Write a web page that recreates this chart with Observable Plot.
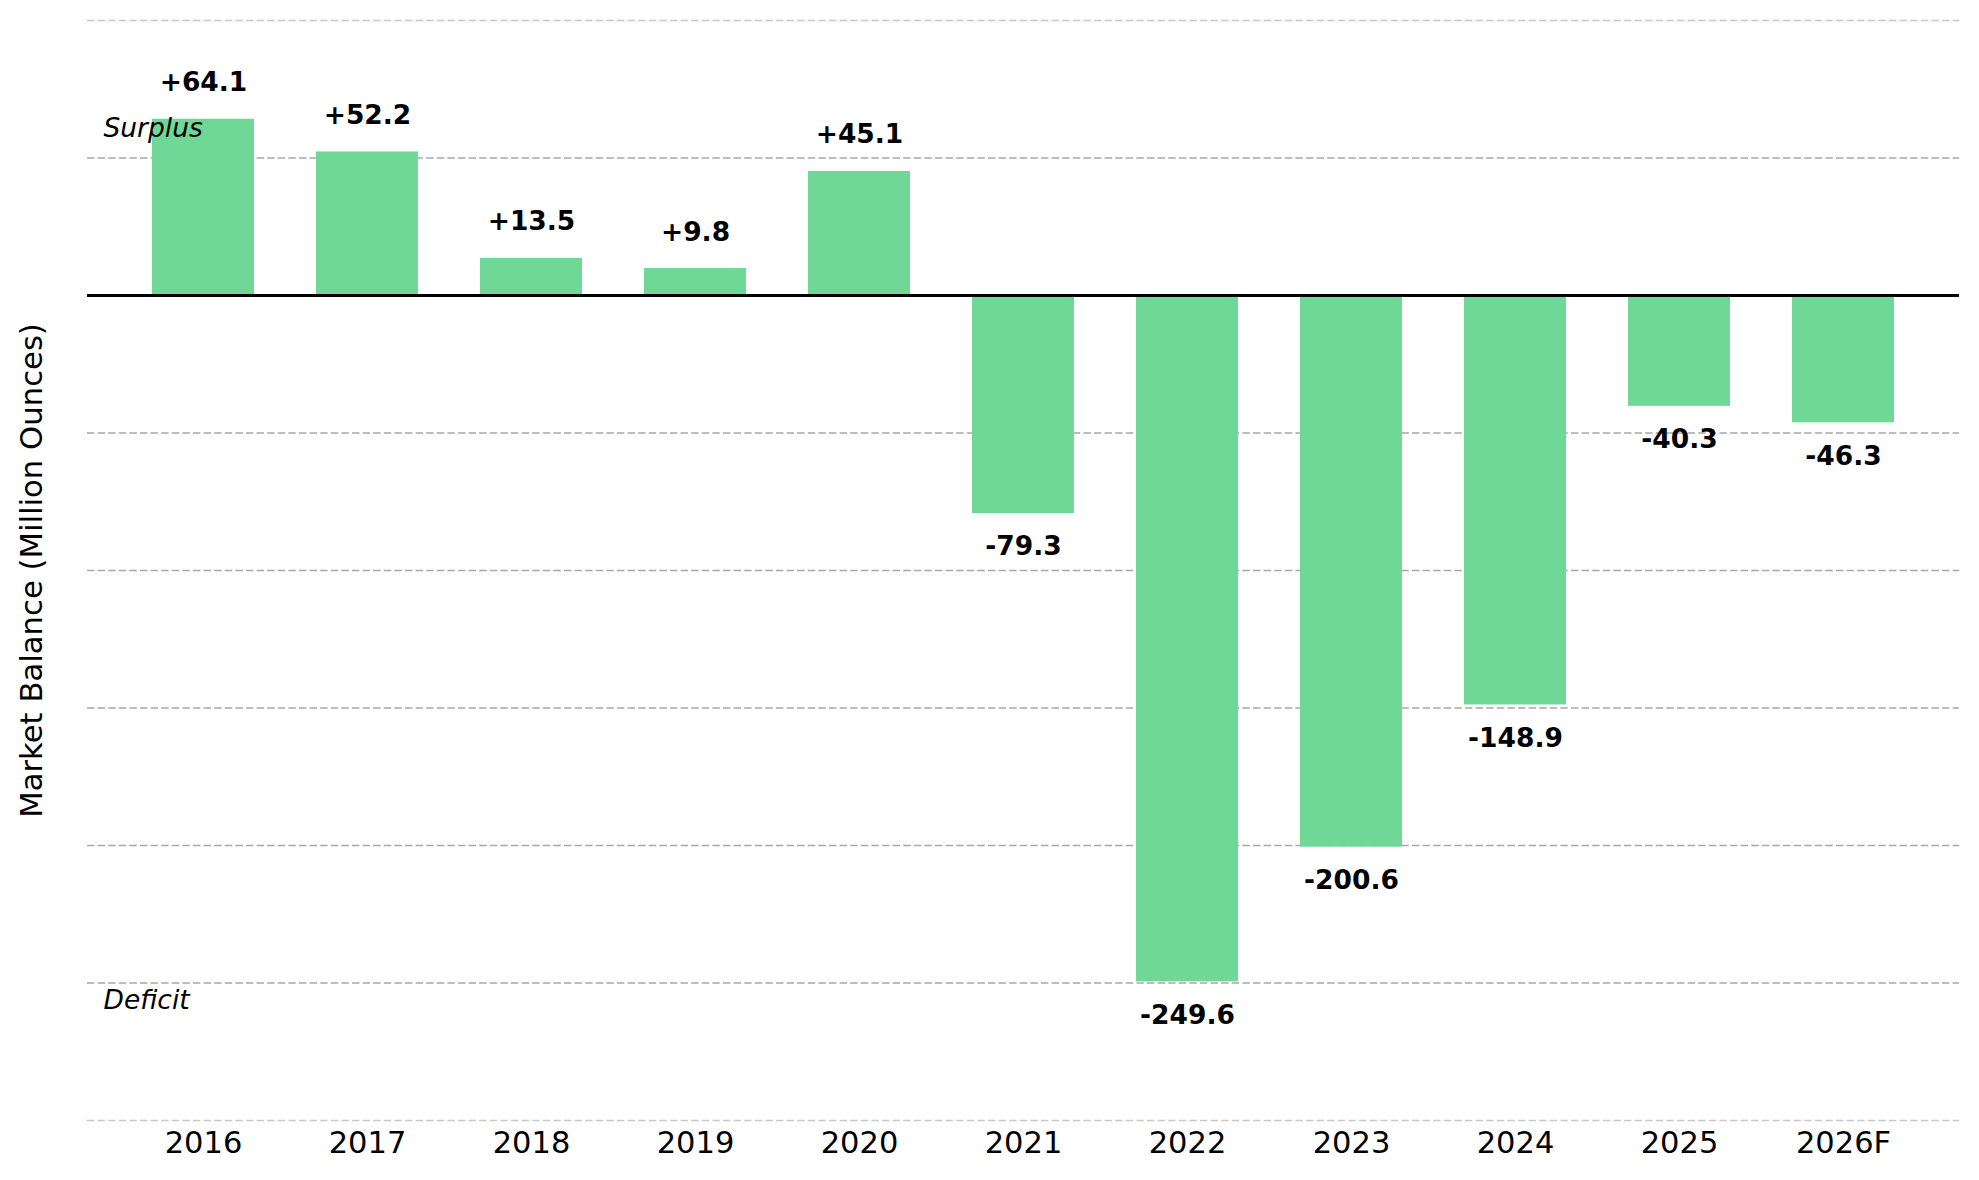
<!DOCTYPE html>
<html><head><meta charset="utf-8">
<script src="https://cdn.jsdelivr.net/npm/d3@7"></script>
<script src="https://cdn.jsdelivr.net/npm/@observablehq/plot@0.6"></script>
<style>html,body{margin:0;padding:0;background:#fff;} svg{display:block}</style>
</head><body><div id="chart"></div>
<script>
const years = ["2016", "2017", "2018", "2019", "2020", "2021", "2022", "2023", "2024", "2025", "2026F"];
const balances = [64.1, 52.2, 13.5, 9.8, 45.1, -79.3, -249.6, -200.6, -148.9, -40.3, -46.3];
const yTicks = [-300, -250, -200, -150, -100, -50, 0, 50, 100];
const yDomain = [-300, 100];
const zoneLabels = ["Surplus", "Deficit"];
const zoneValues = [57.7, -259.6];
const yLabel = "Market Balance (Million Ounces)";

const fmt = v => (v > 0 ? "+" : "") + v.toFixed(1);
const data = years.map((year, i) => ({year, value: balances[i], label: fmt(balances[i])}));
const pos = data.filter(d => d.value >= 0);
const neg = data.filter(d => d.value < 0);
const zones = zoneLabels.map((t, i) => ({text: t, y: zoneValues[i]}));

const chart = Plot.plot({
  width: 1979,
  height: 1180,
  marginLeft: 87,
  marginRight: 20,
  marginTop: 20,
  marginBottom: 60,
  style: {fontFamily: "'DejaVu Sans', sans-serif", background: "#fff", color: "#000"},
  x: {domain: years, paddingInner: 0.38, paddingOuter: 0.38, label: null},
  y: {domain: yDomain, label: null, axis: null},
  marks: [
    Plot.ruleY(yTicks, {
      stroke: d => (d === yDomain[0] || d === yDomain[1]) ? "#c8c8c8" : "#a8a8a8",
      strokeDasharray: "7.4,3.2",
      strokeWidth: 1.6
    }),
    Plot.barY(data, {x: "year", y: "value", fill: "#6fd897"}),
    Plot.ruleY([0], {stroke: "#000", strokeWidth: 3}),
    Plot.text(pos, {x: "year", y: "value", text: "label", lineAnchor: "bottom", dy: -28, fontSize: 26.5, fontWeight: "bold", fill: "#000"}),
    Plot.text(neg, {x: "year", y: "value", text: "label", lineAnchor: "top", dy: 23, fontSize: 26.5, fontWeight: "bold", fill: "#000"}),
    Plot.text(zones, {y: "y", text: "text", frameAnchor: "left", dx: 16, textAnchor: "start", lineAnchor: "bottom", fontSize: 26.5, fontStyle: "italic", fill: "#000"}),
    Plot.axisX({tickSize: 0, tickPadding: 11, fontSize: 30.5, label: null, fill: "#000"}),
    Plot.text([yLabel], {frameAnchor: "left", textAnchor: "middle", rotate: -90, dx: -45.5, lineAnchor: "bottom", fontSize: 30.7, fill: "#000"})
  ]
});
document.getElementById("chart").appendChild(chart);
</script>
</body></html>
